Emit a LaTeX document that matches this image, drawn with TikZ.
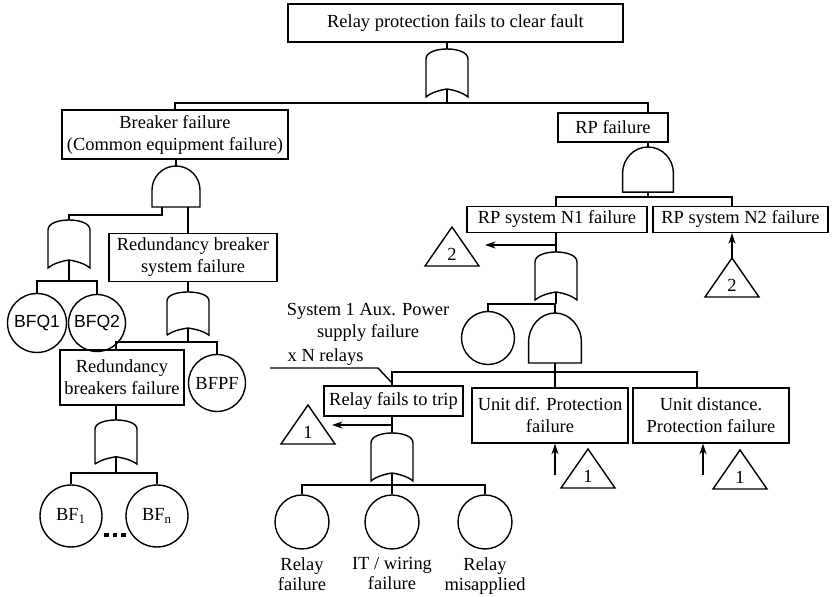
\documentclass[tikz,border=0pt]{standalone}
\usepackage{fontspec}
\setmainfont{Liberation Serif}
\setsansfont{Liberation Sans}
\usetikzlibrary{arrows.meta,positioning}

\begin{document}
\begin{tikzpicture}[
  x=0.02cm, y=-0.02cm,
  font=\fontsize{10.5}{12.5}\selectfont, >={Stealth[length=6pt,width=4pt]},
  line width=0.8pt,
  box/.style={draw, align=center, inner sep=1pt},
  ev/.style={draw, circle, inner sep=0pt},
  lbl/.style={align=center, inner sep=0pt},
  orgate/.pic={
    \draw (-0.42cm,-0.96cm) -- (-0.42cm,-0.2cm)
      .. controls (-0.42cm,-0.06cm) and (-0.2cm,0cm) .. (0cm,0cm)
      .. controls (0.2cm,0cm) and (0.42cm,-0.06cm) .. (0.42cm,-0.2cm)
      -- (0.42cm,-0.96cm)
      .. controls (0.3cm,-0.86cm) and (0.12cm,-0.82cm) .. (0cm,-0.8cm)
      .. controls (-0.12cm,-0.82cm) and (-0.3cm,-0.86cm) .. cycle;
    \coordinate (-top) at (0cm,0cm);
    \coordinate (-bot) at (0cm,-0.8cm);},
  andgate/.pic={
    \draw (-0.48cm,-0.82cm) -- (-0.48cm,-0.48cm)
      arc[start angle=180, end angle=0, radius=0.48cm] -- (0.48cm,-0.82cm) -- cycle;
    \coordinate (-top) at (0cm,0cm);
    \coordinate (-bot) at (0cm,-0.82cm);},
  xfer/.pic={
    \draw (0cm,0cm) -- (-0.54cm,-0.78cm) -- (0.54cm,-0.78cm) -- cycle;
    \node[inner sep=0pt] at (0cm,-0.55cm) {#1};
    \coordinate (-apex) at (0cm,0cm);}]
\useasboundingbox (0,0) rectangle (833,597);

% top event
\node[box, minimum width=6.7cm, minimum height=0.76cm] (top) at (455.5,23) {Relay protection fails to clear fault};
\pic (g0) at (447,49) {orgate};
\coordinate (j0) at (447,103);
\node[box, minimum width=4.52cm, minimum height=0.98cm] (brk) at (175,134.5) {Breaker failure\\(Common equipment failure)};
\node[box, minimum width=2.2cm, minimum height=0.58cm] (rp) at (613,127.5) {RP failure};

% breaker branch
\pic (g1) at (176,166) {andgate};
\pic (g2) at (69,220) {orgate};
\coordinate (j2) at (69,281);
\node[ev, minimum size=1.18cm, font=\sffamily] (bfq1) at (37,323) {BFQ1};
\node[ev, minimum size=1.14cm, font=\sffamily] (bfq2) at (97,323) {BFQ2};
\node[box, minimum width=3.36cm, minimum height=0.96cm] (rbs) at (193,257.5) {Redundancy breaker\\system failure};
\pic[yscale=0.9] (g3) at (188,292) {orgate};
\coordinate (j3) at (188,342);
\node[box, minimum width=2.48cm, minimum height=1.1cm] (rbf) at (122,377.5) {Redundancy\\breakers failure};
\node[ev, minimum size=1.14cm] (bfpf) at (217,383) {BFPF};
\pic[yscale=0.92] (g4) at (116,420) {orgate};
\coordinate (j4) at (116,473);
\node[ev, minimum size=1.24cm] (bf1) at (71,516) {BF\textsubscript{1}};
\node[ev, minimum size=1.24cm] (bfn) at (157,516) {BF\textsubscript{n}};
\node[inner sep=0pt] (dots) at (115,535) {\rule{2.8pt}{2.8pt}\hspace{2.2pt}\rule{2.8pt}{2.8pt}\hspace{2.2pt}\rule{2.8pt}{2.8pt}};

% RP branch
\pic[xscale=1.06, yscale=1.1] (g8) at (648,147) {andgate};
\coordinate (j8) at (648,197);
\node[box, minimum width=3.6cm, minimum height=0.52cm] (n1) at (557,219.5) {RP system N1 failure};
\node[box, minimum width=3.5cm, minimum height=0.52cm] (n2) at (740.5,219.5) {RP system N2 failure};
\pic (t2a) at (452,227) {xfer=2};
\pic (t2b) at (732,258) {xfer=2};
\coordinate (a2) at (485,245);
\pic (g5) at (556,252) {orgate};
\coordinate (j5) at (556,304);
\node[ev, minimum size=1.06cm] (c0) at (488,338) {};
\pic[xscale=1.1, yscale=1.22] (g6) at (555,313) {andgate};
\coordinate (j6) at (555,372);
\node[box, minimum width=2.78cm, minimum height=0.6cm] (rft) at (393.5,401) {Relay fails to trip};
\node[box, minimum width=3.12cm, minimum height=1.1cm] (ud) at (550,415.5) {Unit dif. Protection\\failure};
\node[box, minimum width=3.12cm, minimum height=1.1cm] (udist) at (711,415.5) {Unit distance.\\Protection failure};

% aux power supply
\node[lbl] (aux) at (368,322.5) {System 1 Aux. Power\\supply failure};
\node[lbl, anchor=west] (xn) at (287,357) {x N relays};
\coordinate (ps0) at (270,368);
\coordinate (ps1) at (378,368);
\coordinate (ps2) at (392,383);

% transfers 1
\pic (t1a) at (308,405) {xfer=1};
\pic (t1b) at (588,449) {xfer=1};
\pic (t1c) at (740,450) {xfer=1};
\coordinate (a1a) at (332,425);
\coordinate (a1b) at (555,475);
\coordinate (a1c) at (703,475);

% relay fails to trip
\pic (g7) at (392,433) {orgate};
\coordinate (j7) at (392,485);
\node[ev, minimum size=1.08cm] (c1) at (302,522) {};
\node[ev, minimum size=1.08cm] (c2) at (392,522) {};
\node[ev, minimum size=1.08cm] (c3) at (485,522) {};
\node[lbl, font=\fontsize{10.5}{11.5}\selectfont, below=0.14cm of c1] (l1) {Relay\\failure};
\node[lbl, font=\fontsize{10.5}{11.5}\selectfont, below=0.14cm of c2] (l2) {IT / wiring\\failure};
\node[lbl, font=\fontsize{10.5}{11.5}\selectfont, below=0.14cm of c3] (l3) {Relay\\misapplied};

% connectors
\draw (top.south -| g0-top) -- (g0-top);
\draw (g0-bot) -- (j0);
\draw (brk.north) |- (j0) -| (rp.north -| g8-top);
\draw (brk.south -| g1-top) -- (g1-top);
\draw (g2-top) |- ([xshift=-0.28cm, yshift=-0.16cm]g1-bot) -- ([xshift=-0.28cm]g1-bot);
\draw ([xshift=0.24cm]g1-bot) -- ([xshift=0.24cm]g1-bot |- rbs.north);
\draw (g2-bot) -- (j2);
\draw (bfq1.north) |- (j2) -| (bfq2.north);
\draw (rbs.south -| g3-top) -- (g3-top);
\draw (g3-bot) -- (j3);
\draw ([xshift=-0.12cm]rbf.north) |- (j3) -| (bfpf.north);
\draw (rbf.south -| g4-top) -- (g4-top);
\draw (g4-bot) -- (j4);
\draw (bf1.north) |- (j4) -| (bfn.north);
\draw (rp.south -| g8-top) -- (g8-top);
\draw (g8-bot) -- (j8);
\draw (n1.north -| g5-top) |- (j8) -| (t2b-apex |- n2.north);
\draw[->] (a2 -| g5-top) -- (a2);
\draw[->] (t2b-apex) -- (t2b-apex |- n2.south);
\draw (n1.south -| g5-top) -- (g5-top);
\draw (g5-bot) -- (j5);
\draw (c0.north) |- (j5) -| (g6-top);
\draw (g6-bot) -- (g6-bot |- ud.north);
\draw (rft.north -| g7-top) |- (j6) -| ([xshift=-0.28cm]udist.north);
\draw (ps0) -- (ps1) -- (ps2);
\draw[->] (a1a -| g7-top) -- (a1a);
\draw[->] (a1b) -- (a1b |- ud.south);
\draw[->] (a1c) -- (a1c |- udist.south);
\draw (rft.south -| g7-top) -- (g7-top);
\draw (g7-bot) -- (j7);
\draw (c1.north) |- (j7) -| (c3.north);
\draw (j7) -- (c2.north);
\end{tikzpicture}
\end{document}
